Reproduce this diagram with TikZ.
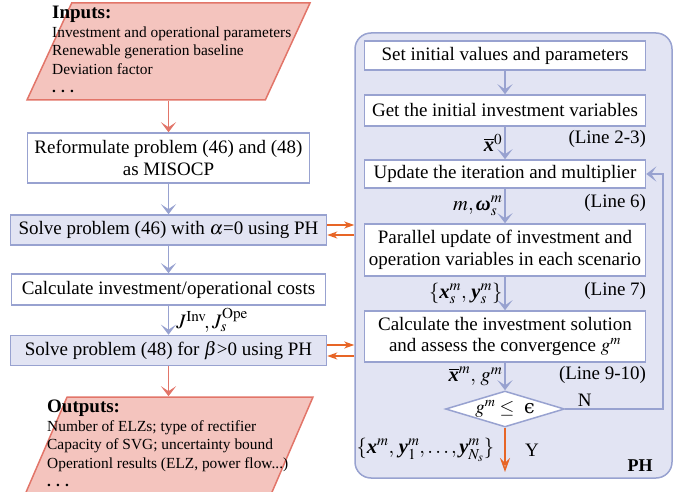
\documentclass[tikz,border=0pt]{standalone}
\usepackage{amsmath}
\usepackage{mathptmx}
\usepackage{fontspec}
\setmainfont{Liberation Serif}
\newfontfamily\epsfont{DejaVu Serif}
\usetikzlibrary{arrows.meta,shapes.geometric,positioning}

\newcommand\vx{\textbf{\textit{x}}}
\newcommand\vy{\textbf{\textit{y}}}
\newcommand\vomega{\textbf{\textit{ω}}}

\definecolor{flowblue}{RGB}{152,162,208}
\definecolor{flowfill}{RGB}{226,228,243}
\definecolor{iored}{RGB}{226,117,105}
\definecolor{iofill}{RGB}{244,196,190}
\definecolor{phorange}{RGB}{231,101,38}

\begin{document}
\begin{tikzpicture}[x=1pt, y=-1pt,
  every node/.style={font=\fontsize{19}{21.5}\selectfont},
  plainbox/.style={draw=flowblue, line width=1.5pt, fill=white, align=center, inner sep=0pt},
  shadedbox/.style={plainbox, fill=flowfill},
  iobox/.style={trapezium, trapezium stretches=true, draw=iored, fill=iofill, line width=1.5pt, inner sep=2pt},
  iotext/.style={align=left, inner sep=0pt, anchor=north west, font=\fontsize{15.4}{18.5}\selectfont},
  phpanel/.style={draw=flowblue, fill=flowfill, line width=1.5pt, rounded corners=16pt, inner sep=0pt},
  decide/.style={diamond, draw=flowblue, fill=white, line width=1.5pt, inner sep=0pt, aspect=3.3},
  linetag/.style={inner sep=0pt},
  varlabel/.style={inner sep=2pt, font=\fontsize{20.5}{22}\selectfont},
  flow/.style={draw=flowblue, line width=1.5pt, -{Stealth[length=10pt, width=15pt, inset=5pt]}},
  ioflow/.style={flow, draw=iored},
  phflow/.style={draw=phorange, line width=1.6pt, -{Stealth[open, length=14pt, width=10pt, inset=5pt]}},
  sideflow/.style={draw=phorange, line width=1.6pt, -{Stealth[open, length=10pt, width=7pt, inset=3pt]}}]

\useasboundingbox (0,0) rectangle (688,492);

\node[iobox, trapezium left angle=77, trapezium right angle=103, minimum width=283pt, minimum height=97pt] (inputs) at (168.5,51.5) {};

\node[iotext] (intext) at (52,6) {\textbf{\fontsize{19}{18.5}\selectfont Inputs:}\\Investment and operational parameters\\Renewable generation baseline\\Deviation factor\\\textbf{. . .}};

\node[plainbox, minimum width=282pt, minimum height=50pt] (reform) at (168.5,158) {Reformulate problem (46) and (48)\\as MISOCP};

\node[shadedbox, minimum width=316pt, minimum height=30pt] (solvea) at (168.5,230) {Solve problem (46) with $\alpha$=0 using PH};

\node[plainbox, minimum width=314pt, minimum height=31pt] (costs) at (168.5,289.5) {Calculate investment/operational costs};

\node[shadedbox, minimum width=316pt, minimum height=30pt] (solveb) at (168.5,350.5) {Solve problem (48) for $\beta$>0 using PH};

\node[iobox, trapezium left angle=78, trapezium right angle=102, minimum width=289pt, minimum height=100pt] (outputs) at (168.5,447) {};

\node[iotext] (outtext) at (47,400) {\textbf{\fontsize{19}{18.5}\selectfont Outputs:}\\Number of ELZs; type of rectifier\\Capacity of SVG; uncertainty bound\\Operationl results (ELZ, power flow...)\\\textbf{. . .}};

\draw[ioflow] (inputs) -- (reform);

\draw[flow] (reform) -- (solvea);

\draw[flow] (solvea) -- (costs);

\draw[flow] (costs) -- node[varlabel, right=5pt] {$J^{\mathrm{Inv}}\!,J_{s}^{\mathrm{Ope}}$} (solveb);

\draw[ioflow] (solveb) -- (outputs);

\node[phpanel, minimum width=317pt, minimum height=445pt] (ph) at (513.5,255.5) {};

\node[plainbox, minimum width=281pt, minimum height=29pt] (setinit) at (505,55.5) {Set initial values and parameters};

\node[plainbox, minimum width=281pt, minimum height=31pt] (getinit) at (505,110.5) {Get the initial investment variables};

\node[plainbox, minimum width=281pt, minimum height=28pt] (update) at (505,174) {Update the iteration and multiplier};

\node[plainbox, minimum width=281pt, minimum height=52pt] (parallel) at (505,250) {Parallel update of investment and\\operation variables in each scenario};

\node[plainbox, minimum width=281pt, minimum height=51pt] (calcsol) at (505,336.5) {Calculate the investment solution\\and assess the convergence $g^{m}$};

\node[decide, minimum width=119pt, minimum height=36pt] (conv) at (505,409) {$g^{m}\leq$\ \ {\epsfont ϵ}};

\node[linetag, below left=3pt and 0pt of getinit.south east] (tagget) {(Line 2-3)};

\node[linetag, below left=5pt and 0pt of update.south east] (tagupd) {(Line 6)};

\node[linetag, below left=5pt and 0pt of parallel.south east] (tagpar) {(Line 7)};

\node[linetag, below left=3pt and 0pt of calcsol.south east] (tagcalc) {(Line 9-10)};

\node[font=\fontsize{18}{20}\selectfont\bfseries] (phtag) at (640,466) {PH};

\coordinate (loopr) at (663,174);

\coordinate (phend) at (505,472);

\draw[flow] (setinit) -- (getinit);

\draw[flow] (getinit) -- node[varlabel, left] {$\overline{\vx}^{0}$} (update);

\draw[flow] (update) -- node[varlabel, left] {$m,\vomega_{s}^{m}$} (parallel);

\draw[flow] (parallel) -- node[varlabel, left] {$\{\vx_{s}^{m},\,\vy_{s}^{m}\}$} (calcsol);

\draw[flow] (calcsol) -- node[varlabel, left] {$\overline{\vx}^{m},\,g^{m}$} (conv);

\draw[flow] (conv.east) -- node[pos=0.2, above, inner sep=2pt] {N} (conv.east -| loopr) -- (loopr) -- (update.east);

\draw[phflow] (conv.south) -- node[right=16pt] {Y} node[varlabel, left=8pt] {$\{\vx^{m},\,\vy_{1}^{m},\ldots,\vy_{N_s}^{m}\}$} (phend);

\draw[sideflow, transform canvas={yshift=5pt}] (solvea.east) -- (solvea.east -| ph.west);

\draw[sideflow, transform canvas={yshift=-5pt}] (solvea.east -| ph.west) -- (solvea.east);

\draw[sideflow, transform canvas={yshift=5.5pt}] (solveb.east) -- (solveb.east -| ph.west);

\draw[sideflow, transform canvas={yshift=-5.5pt}] (solveb.east -| ph.west) -- (solveb.east);

\end{tikzpicture}
\end{document}
